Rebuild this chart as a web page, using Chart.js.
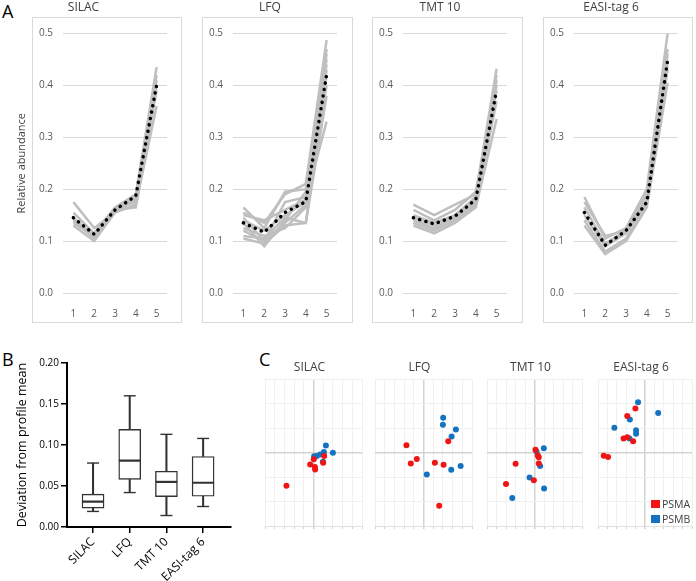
<!DOCTYPE html>
<html><head><meta charset="utf-8">
<script src="https://cdn.jsdelivr.net/npm/chart.js@4.4.1/dist/chart.umd.min.js"></script>
<style>
body{margin:0;width:696px;height:581px;position:relative;background:#fff;overflow:hidden;font-family:'Open Sans',sans-serif;}
canvas{position:absolute;}
.box{position:absolute;border:1px solid #D9D9D9;box-sizing:border-box;}
.letter{position:absolute;font-size:18px;color:#000;line-height:1;}
.leg{position:absolute;font-size:10.5px;color:#404040;line-height:1;}
.sq{position:absolute;width:9px;height:8px;}
</style></head><body>
<div class="letter" style="left:2px;top:2px">A</div>
<div class="letter" style="left:2px;top:350px">B</div>
<div class="letter" style="left:259px;top:350px">C</div>
<div class="box" style="left:32px;top:17px;width:150px;height:306px"></div>
<div class="box" style="left:202px;top:17px;width:151px;height:306px"></div>
<div class="box" style="left:372px;top:17px;width:151px;height:306px"></div>
<div class="box" style="left:543px;top:17px;width:150px;height:306px"></div>
<canvas id="a1"></canvas><canvas id="a2"></canvas><canvas id="a3"></canvas><canvas id="a4"></canvas>
<canvas id="b1"></canvas>
<canvas id="c1"></canvas><canvas id="c2"></canvas><canvas id="c3"></canvas><canvas id="c4"></canvas>
<div class="sq" style="left:651px;top:500px;background:#F01414"></div>
<div class="leg" style="left:662px;top:499px">PSMA</div>
<div class="sq" style="left:651px;top:515px;background:#1473C0"></div>
<div class="leg" style="left:662px;top:514px">PSMB</div>
<script>
// ---------- DATA ----------
const fractions = ['1','2','3','4','5'];
const methods = ['SILAC','LFQ','TMT 10','EASI-tag 6'];

const silacMean = [0.145, 0.113, 0.160, 0.187, 0.400];
const silacProfiles = [
  [0.175, 0.125, 0.155, 0.180, 0.400],
  [0.155, 0.115, 0.165, 0.190, 0.435],
  [0.140, 0.105, 0.160, 0.185, 0.420],
  [0.130, 0.100, 0.155, 0.170, 0.360],
  [0.145, 0.110, 0.160, 0.165, 0.390],
  [0.135, 0.110, 0.162, 0.175, 0.410]
];
const lfqMean = [0.135, 0.117, 0.155, 0.176, 0.420];
const lfqProfiles = [
  [0.165, 0.125, 0.195, 0.200, 0.450],
  [0.155, 0.135, 0.190, 0.210, 0.487],
  [0.145, 0.100, 0.175, 0.185, 0.470],
  [0.135, 0.090, 0.140, 0.195, 0.440],
  [0.125, 0.110, 0.125, 0.165, 0.400],
  [0.110, 0.105, 0.145, 0.135, 0.420],
  [0.105, 0.095, 0.130, 0.135, 0.380],
  [0.150, 0.140, 0.160, 0.180, 0.330],
  [0.140, 0.120, 0.150, 0.175, 0.460],
  [0.120, 0.100, 0.135, 0.170, 0.430]
];
const tmtMean = [0.145, 0.133, 0.148, 0.180, 0.390];
const tmtProfiles = [
  [0.170, 0.150, 0.170, 0.190, 0.432],
  [0.160, 0.140, 0.160, 0.195, 0.410],
  [0.150, 0.135, 0.150, 0.180, 0.400],
  [0.140, 0.125, 0.145, 0.175, 0.390],
  [0.130, 0.115, 0.135, 0.165, 0.335],
  [0.135, 0.120, 0.140, 0.170, 0.370],
  [0.145, 0.130, 0.150, 0.185, 0.420]
];
const easiMean = [0.155, 0.092, 0.120, 0.175, 0.448];
const easiProfiles = [
  [0.185, 0.105, 0.125, 0.200, 0.500],
  [0.175, 0.110, 0.120, 0.190, 0.470],
  [0.165, 0.095, 0.120, 0.180, 0.460],
  [0.150, 0.090, 0.115, 0.175, 0.440],
  [0.140, 0.080, 0.105, 0.170, 0.430],
  [0.130, 0.075, 0.100, 0.165, 0.405]
];

const boxMin    = [0.019, 0.042, 0.014, 0.025];
const boxQ1     = [0.023, 0.058, 0.037, 0.0375];
const boxMedian = [0.031, 0.081, 0.055, 0.054];
const boxQ3     = [0.040, 0.119, 0.068, 0.086];
const boxMax    = [0.078, 0.160, 0.113, 0.108];

const silacPSMA = [{x:1.10,y:-0.14},{x:0.03,y:-0.27},{x:-0.34,y:-0.48},{x:0.14,y:-0.59},{x:0.17,y:-0.69},{x:1.00,y:-0.41},{x:-2.79,y:-1.35}];
const silacPSMB = [{x:1.28,y:0.29},{x:1.07,y:0.03},{x:2.00,y:0.00},{x:0.97,y:-0.37},{x:0.07,y:-0.15},{x:0.34,y:-0.14},{x:0.69,y:-0.07}];
const lfqPSMA = [{x:2.55,y:0.47},{x:-1.76,y:0.30},{x:-1.31,y:-0.44},{x:-0.69,y:-0.26},{x:1.17,y:-0.41},{x:2.07,y:-0.49},{x:1.62,y:-2.17}];
const lfqPSMB = [{x:2.03,y:1.43},{x:2.00,y:1.14},{x:3.34,y:0.95},{x:2.90,y:0.66},{x:3.83,y:-0.54},{x:2.86,y:-0.70},{x:0.34,y:-0.89}];
const tmtPSMA = [{x:0.10,y:0.12},{x:0.35,y:-0.11},{x:0.45,y:-0.19},{x:0.45,y:-0.44},{x:-1.99,y:-0.45},{x:-0.07,y:-1.13},{x:-3.00,y:-1.28}];
const tmtPSMB = [{x:0.98,y:0.18},{x:0.21,y:0.05},{x:0.59,y:-0.54},{x:-0.52,y:-1.02},{x:1.01,y:-1.47},{x:-2.34,y:-1.85}];
const easiPSMA = [{x:-1.02,y:1.81},{x:-1.89,y:1.50},{x:-2.28,y:0.58},{x:-1.89,y:0.63},{x:-1.26,y:0.47},{x:-4.39,y:-0.12},{x:-3.93,y:-0.18}];
const easiPSMB = [{x:-0.74,y:2.06},{x:1.40,y:1.62},{x:-1.61,y:1.36},{x:-3.26,y:1.02},{x:-0.95,y:0.92},{x:-0.95,y:0.78},{x:-1.65,y:0.58}];

// ---------- STYLE / LAYOUT ----------
const FONT = "'Open Sans', sans-serif";
Chart.defaults.font.family = FONT;
const RED = '#F01414', BLUE = '#1473C0';

function place(id, left, top, w, h){
  const c = document.getElementById(id);
  c.width = w; c.height = h;
  c.style.left = left+'px'; c.style.top = top+'px';
  c.style.width = w+'px'; c.style.height = h+'px';
  return c;
}

function profileChart(id, boxLeft, boxRight, title, profiles, mean, first){
  const left = first ? 0 : boxLeft + 1;
  const w = boxRight - left;
  const areaLeft = boxLeft + 31, areaRight = boxLeft + 135;
  const c = place(id, left, 0, w, 321);
  const ds = [{data: mean, borderColor:'#000', borderWidth:3.5, borderDash:[0.1,6.4], borderCapStyle:'round', pointRadius:0, tension:0, fill:false}];
  profiles.forEach(p => ds.push({data:p, borderColor:'#BFBFBF', borderWidth:2.5, pointRadius:0, tension:0, fill:false}));
  new Chart(c, {
    type:'line',
    data:{labels:fractions, datasets:ds},
    options:{
      responsive:false, animation:false, devicePixelRatio:1,
      layout:{padding:{left:0, right: left + w - areaRight, top:0, bottom:0}},
      plugins:{legend:{display:false}, tooltip:{enabled:false},
        title:{display:true, text:title, color:'#404040', font:{size:12, weight:'normal'}, padding:{top:0, bottom:19}}},
      scales:{
        x:{offset:true, grid:{display:false}, border:{display:false},
           ticks:{color:'#595959', font:{size:10}, padding:7}, afterFit(s){ s.height = 28; }},
        y:{min:0, max:0.5, ticks:{stepSize:0.1, color:'#595959', font:{size:10}, padding:10, callback:v=>v.toFixed(1)},
           grid:{color:'#D9D9D9', drawTicks:false}, border:{display:false},
           title: first ? {display:true, text:'Relative abundance', color:'#404040', font:{size:11}, padding:{top:15, bottom:0}} : {display:false},
           afterFit(s){ s.width = areaLeft - left; }}
      }
    }
  });
}

profileChart('a1', 32, 181, methods[0], silacProfiles, silacMean, true);
profileChart('a2', 202, 352, methods[1], lfqProfiles, lfqMean, false);
profileChart('a3', 372, 522, methods[2], tmtProfiles, tmtMean, false);
profileChart('a4', 543, 692, methods[3], easiProfiles, easiMean, false);

// ---------- B: box plot ----------
(function(){
  const c = place('b1', 0, 350, 245, 231);
  const idx = methods.map((m,i)=>i);
  const lowBox = idx.map(i=>({x:i, y:[boxQ1[i], boxMedian[i]]}));
  const highBox = idx.map(i=>({x:i, y:[boxMedian[i], boxQ3[i]]}));
  const lowW = idx.map(i=>({x:i, y:[boxMin[i], boxQ1[i]]}));
  const highW = idx.map(i=>({x:i, y:[boxQ3[i], boxMax[i]]}));
  const caps = idx.flatMap(i=>[{x:i, y:boxMin[i]}, {x:i, y:boxMax[i]}]);
  const boxStyle = {type:'bar', backgroundColor:'#fff', borderColor:'#333', borderWidth:1.4, borderSkipped:false, barThickness:22, grouped:false};
  const whStyle = {type:'bar', backgroundColor:'#333', borderWidth:0, barThickness:1.4, grouped:false};
  new Chart(c, {
    data:{datasets:[
      Object.assign({data:lowBox}, boxStyle),
      Object.assign({data:highBox}, boxStyle),
      Object.assign({data:lowW}, whStyle),
      Object.assign({data:highW}, whStyle),
      {type:'line', data:caps, showLine:false, pointStyle:'line', pointRadius:6, pointBorderWidth:1.4, pointBorderColor:'#333', pointBackgroundColor:'#333'}
    ]},
    options:{
      responsive:false, animation:false, devicePixelRatio:1,
      layout:{padding:{left:0, right:14, top:13, bottom:0}},
      plugins:{legend:{display:false}, tooltip:{enabled:false}},
      scales:{
        x:{type:'linear', min:-0.71, max:3.76, offset:false,
           afterBuildTicks(s){ s.ticks = idx.map(v=>({value:v})); },
           ticks:{autoSkip:false, minRotation:45, maxRotation:45, color:'#000', font:{size:12}, padding:2, callback:v=>methods[v]},
           grid:{display:true, drawOnChartArea:false, drawTicks:true, tickLength:6, color:'#000', lineWidth:1.5, offset:false},
           border:{color:'#000', width:2},
           afterFit(s){ s.height = 54; }},
        y:{min:0, max:0.2,
           ticks:{stepSize:0.05, color:'#000', font:{size:10}, padding:2, callback:v=>v.toFixed(2)},
           grid:{display:true, drawOnChartArea:false, drawTicks:true, tickLength:6, color:'#000', lineWidth:1.5},
           border:{color:'#000', width:2},
           title:{display:true, text:'Deviation from profile mean', color:'#000', font:{size:12.5}, padding:{top:15, bottom:0}},
           afterFit(s){ s.width = 67; }}
      }
    }
  });
})();

// ---------- C: scatter plots ----------
function scatterChart(id, l, r, title, psma, psmb){
  const c = place(id, l - 8, 355, (r - l) + 16, 185);
  const gridColor = ctx => ctx.tick && ctx.tick.value === 0 ? '#D4D4D4' : '#F0F0F0';
  const gridWidth = ctx => ctx.tick && ctx.tick.value === 0 ? 1.5 : 1;
  new Chart(c, {
    type:'scatter',
    data:{datasets:[
      {data:psma, backgroundColor:RED, borderWidth:0, pointRadius:3},
      {data:psmb, backgroundColor:BLUE, borderWidth:0, pointRadius:3}
    ]},
    options:{
      responsive:false, animation:false, devicePixelRatio:1,
      layout:{padding:{left:0, right:8, top:0, bottom:0}},
      plugins:{legend:{display:false}, tooltip:{enabled:false},
        title:{display:true, text:title, color:'#404040', font:{size:12, weight:'normal'}, padding:{top:5, bottom:5}}},
      scales:{
        x:{min:-5, max:5, ticks:{display:false, stepSize:1},
           grid:{color:gridColor, lineWidth:gridWidth, tickLength:3, tickColor:'#D0D0D0'},
           border:{display:true, color:'#E0E0E0'}, afterFit(s){ s.height = 14; }},
        y:{min:-3, max:3, ticks:{display:false, stepSize:1},
           grid:{color:gridColor, lineWidth:gridWidth, drawTicks:false},
           border:{display:false}, afterFit(s){ s.width = 8; }}
      }
    }
  });
}
scatterChart('c1', 265, 362, methods[0], silacPSMA, silacPSMB);
scatterChart('c2', 375, 472, methods[1], lfqPSMA, lfqPSMB);
scatterChart('c3', 487, 582, methods[2], tmtPSMA, tmtPSMB);
scatterChart('c4', 598, 692, methods[3], easiPSMA, easiPSMB);
</script>
</body></html>
